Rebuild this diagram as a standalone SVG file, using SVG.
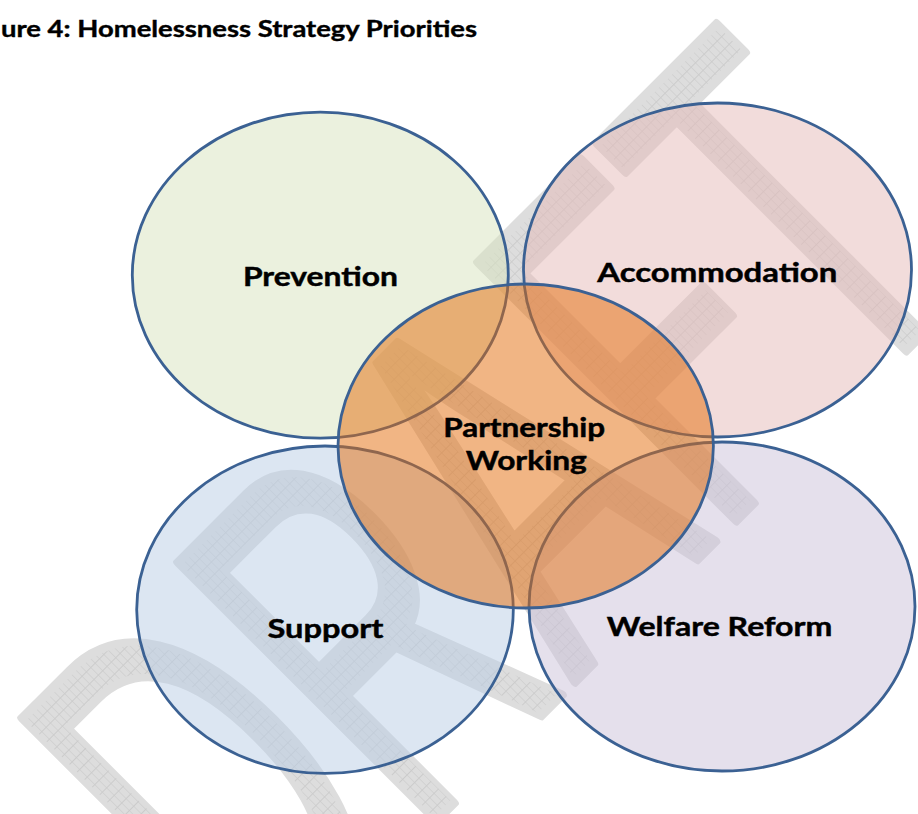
<svg xmlns="http://www.w3.org/2000/svg" width="918" height="814" viewBox="0 0 918 814">
  <defs>
    <!-- fine grey grid used for the watermark fill -->
    <pattern id="hatch" patternUnits="userSpaceOnUse" width="10.7" height="10.7">
      <rect width="10.7" height="10.7" fill="#dddddd"/>
      <path d="M0 0.5H10.7M0.5 0V10.7" stroke="#cbcbcb" stroke-width="1" fill="none"/>
    </pattern>
    <style>
      .ring { stroke: #3b6193; stroke-width: 2.8; }
      .label { font-family: Lato, "Open Sans", "Liberation Sans", sans-serif; font-weight: bold; font-size: 27px; fill: #000; stroke: #000; stroke-width: 0.45; text-anchor: middle; }
      .title { font-family: Lato, "Open Sans", "Liberation Sans", sans-serif; font-weight: bold; font-size: 23.5px; fill: #000; stroke: #000; stroke-width: 0.4; }
    </style>
  </defs>

  <rect width="918" height="814" fill="#ffffff"/>

  <!-- diagonal DRAFT watermark behind the diagram -->
  <g id="watermark">
    <text transform="translate(261.5,995.5) rotate(-45) scale(0.575,1)" x="0" y="0"
          font-family="'Liberation Sans', Arial, sans-serif" font-size="531"
          fill="url(#hatch)" stroke="#dddddd" stroke-width="9" stroke-linejoin="round">DRAFT</text>
  </g>

  <text class="title" x="1" y="36.7" textLength="476" lengthAdjust="spacingAndGlyphs">ure 4: Homelessness Strategy Priorities</text>

  <g id="prevention">
    <ellipse class="ring" cx="320.3" cy="275.2" rx="188" ry="163" fill="#d7e4bd" fill-opacity="0.5"/>
  </g>
  <g id="accommodation">
    <ellipse class="ring" cx="717.5" cy="270" rx="194" ry="167" fill="#e6b9b8" fill-opacity="0.5"/>
  </g>
  <g id="support">
    <ellipse class="ring" cx="325" cy="609.7" rx="188.3" ry="163.7" fill="#b9cde5" fill-opacity="0.5"/>
  </g>
  <g id="welfare-reform">
    <ellipse class="ring" cx="722" cy="606.5" rx="193" ry="164.5" fill="#ccc1da" fill-opacity="0.5"/>
  </g>
  <g id="partnership-working">
    <ellipse class="ring" cx="525.7" cy="446" rx="187.7" ry="162" fill="#e46c0a" fill-opacity="0.5"/>
  </g>

  <g id="labels">
    <text class="label" x="320.4" y="286" textLength="155" lengthAdjust="spacingAndGlyphs">Prevention</text>
    <text class="label" x="717.3" y="281.7" textLength="240" lengthAdjust="spacingAndGlyphs">Accommodation</text>
    <text class="label" x="524.2" y="436.7" textLength="162" lengthAdjust="spacingAndGlyphs">Partnership</text>
    <text class="label" x="526.3" y="470" textLength="121" lengthAdjust="spacingAndGlyphs">Working</text>
    <text class="label" x="325.5" y="638.3" textLength="116" lengthAdjust="spacingAndGlyphs">Support</text>
    <text class="label" x="719.5" y="636" textLength="225.6" lengthAdjust="spacingAndGlyphs">Welfare Reform</text>
  </g>
</svg>
